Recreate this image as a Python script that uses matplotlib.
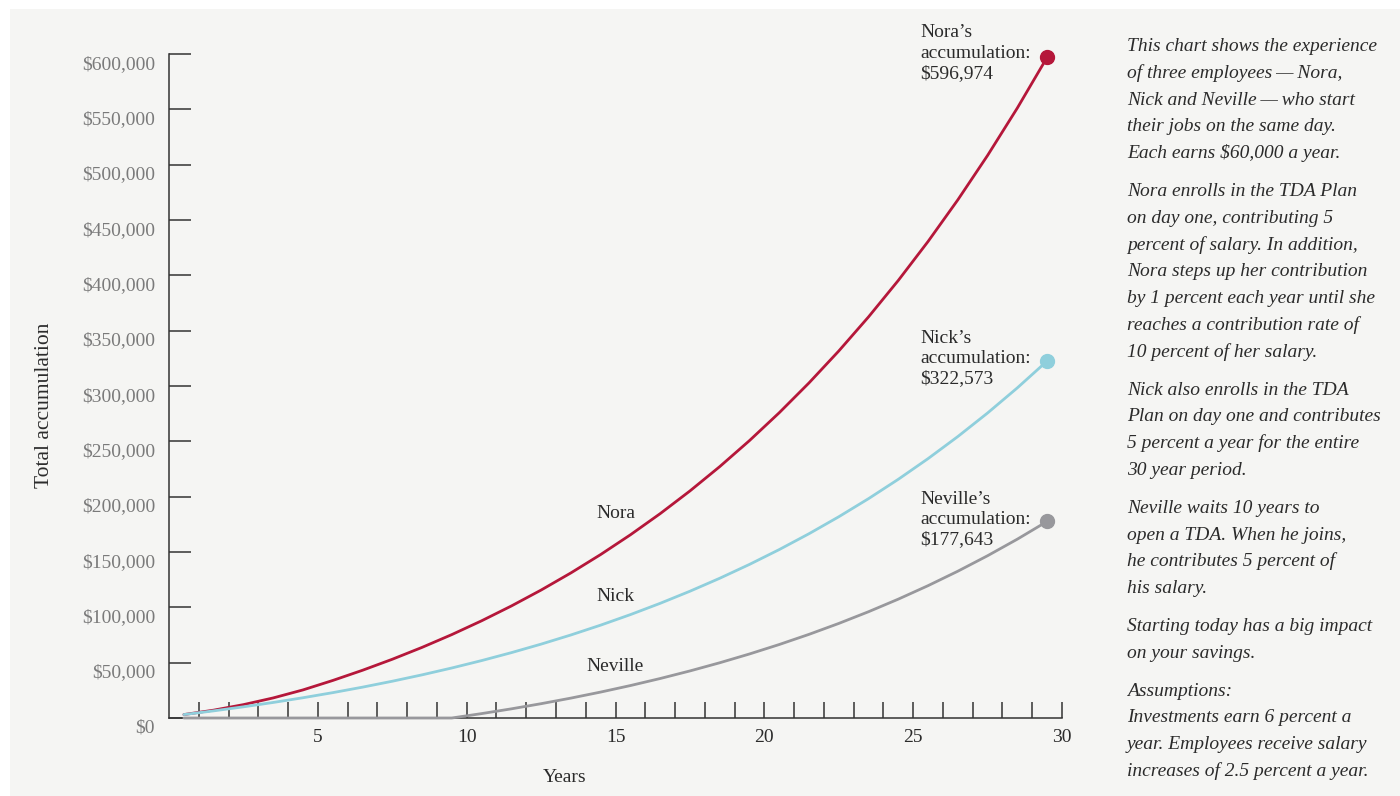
import matplotlib
matplotlib.use("Agg")
import matplotlib.pyplot as plt
import matplotlib.patches as mpatch
import matplotlib.transforms as mtrans

years = list(range(1, 31))
nora = [3097, 7090, 12071, 18132, 25371, 33901, 43116, 53065, 63795, 75359,
        87807, 101200, 115601, 131074, 147690, 165520, 184647, 205150, 227118, 250645,
        275831, 302784, 331612, 362436, 395384, 430588, 468195, 508348, 551213, 596974]
nick = [3097, 6456, 10097, 14038, 18298, 22900, 27864, 33217, 38983, 45190,
        51865, 59039, 66746, 75019, 83896, 93414, 103617, 114546, 126248, 138773,
        152173, 166505, 181826, 198199, 215692, 234374, 254322, 275612, 298331, 322573]
neville = [0, 0, 0, 0, 0, 0, 0, 0, 0, 0,
           3964, 8264, 12925, 17970, 23423, 29314, 35668, 42521, 49901, 57847,
           66392, 75574, 85440, 96030, 107394, 119577, 132637, 146630, 161609, 177643]

names = ["Nora", "Nick", "Neville"]
finals = ["$596,974", "$322,573", "$177,643"]
y_ticks = list(range(0, 600001, 50000))
y_labels = ["${:,}".format(v) for v in y_ticks]

paragraphs = [
    ["This chart shows the experience",
     "of three employees\u2009\u2014\u2009Nora,",
     "Nick and Neville\u2009\u2014\u2009who start",
     "their jobs on the same day.",
     "Each earns $60,000 a year."],
    ["Nora enrolls in the TDA Plan",
     "on day one, contributing 5",
     "percent of salary. In addition,",
     "Nora steps up her contribution",
     "by 1 percent each year until she",
     "reaches a contribution rate of",
     "10 percent of her salary."],
    ["Nick also enrolls in the TDA",
     "Plan on day one and contributes",
     "5 percent a year for the entire",
     "30 year period."],
    ["Neville waits 10 years to",
     "open a TDA. When he joins,",
     "he contributes 5 percent of",
     "his salary."],
    ["Starting today has a big impact",
     "on your savings."],
    ["Assumptions:",
     "Investments earn 6 percent a",
     "year. Employees receive salary",
     "increases of 2.5 percent a year."],
]

W, H = 1400, 796
plt.rcParams['font.family'] = ['Liberation Serif', 'DejaVu Serif']
fig = plt.figure(figsize=(W / 100, H / 100), dpi=100)
fig.patch.set_facecolor('white')
fig.patches.append(mpatch.Rectangle((10 / W, 0), 1 - 10 / W, 1 - 9 / H,
                                    transform=fig.transFigure, fc='#f5f5f3', ec='none', zorder=-10))

ax = fig.add_axes([169 / W, 78 / H, (1062 - 169) / W, (718 - 54) / H])
ax.set_zorder(1)
ax.set_facecolor('none')
ax.set_xlim(0, 30)
ax.set_ylim(0, 600000)
for s in ['top', 'right']:
    ax.spines[s].set_visible(False)
for s in ['left', 'bottom']:
    ax.spines[s].set_color('#333333')
    ax.spines[s].set_linewidth(1.1)

colors = ['#b5173a', '#8fcfdc', '#98989c']
xs = [y - 0.5 for y in years]
for series, c in zip([nora, nick, neville], colors):
    ax.plot(xs, series, color=c, lw=2.0, zorder=3, clip_on=False, solid_capstyle='round')
    ax.plot(xs[-1], series[-1], 'o', color=c, ms=10, zorder=4, clip_on=False)

ax.set_yticks(y_ticks)
ax.set_yticklabels(y_labels)
ax.set_xticks(range(5, 31, 5))
ax.set_xticks(years, minor=True)
ax.tick_params(axis='y', direction='in', length=16, width=1.1, color='#333333',
               pad=10, labelsize=14, labelcolor='#7a7a7a')
ax.tick_params(axis='x', which='both', direction='in', length=11.5, width=1.1,
               color='#333333', pad=8, labelsize=14, labelcolor='#2b2b2b')
# y labels sit a little below their ticks in the original
shift = mtrans.ScaledTranslation(0, -6 / 72, fig.dpi_scale_trans)
for lbl in ax.get_yticklabels():
    lbl.set_transform(lbl.get_transform() + shift)

# curve labels
ax.text(15, 184600, "Nora", ha='center', va='center', fontsize=14, color='#2b2b2b')
ax.text(15, 109500, "Nick", ha='center', va='center', fontsize=14, color='#2b2b2b')
ax.text(15, 46150, "Neville", ha='center', va='center', fontsize=14, color='#2b2b2b')

# end annotations
for name, val, yv in zip(names, finals, [600900, 324900, 179200]):
    ax.text(25.23, yv, "{}\u2019s\naccumulation:\n{}".format(name, val), ha='left', va='center',
            fontsize=14, color='#2b2b2b', linespacing=1.25)

fig.text(45 / W, 1 - 405 / H, "Total accumulation", rotation=90, ha='center', va='center',
         fontsize=15.5, color='#2b2b2b')
fig.text(565 / W, 1 - 778 / H, "Years", ha='center', va='center', fontsize=14, color='#2b2b2b')

# side notes
y = 51
for para in paragraphs:
    for line in para:
        fig.text(1127 / W, 1 - y / H, line, ha='left', va='baseline', fontsize=14,
                 style='italic', color='#2b2b2b')
        y += 26.8
    y += 11

fig.savefig('out.png', dpi=100, facecolor=fig.get_facecolor())
